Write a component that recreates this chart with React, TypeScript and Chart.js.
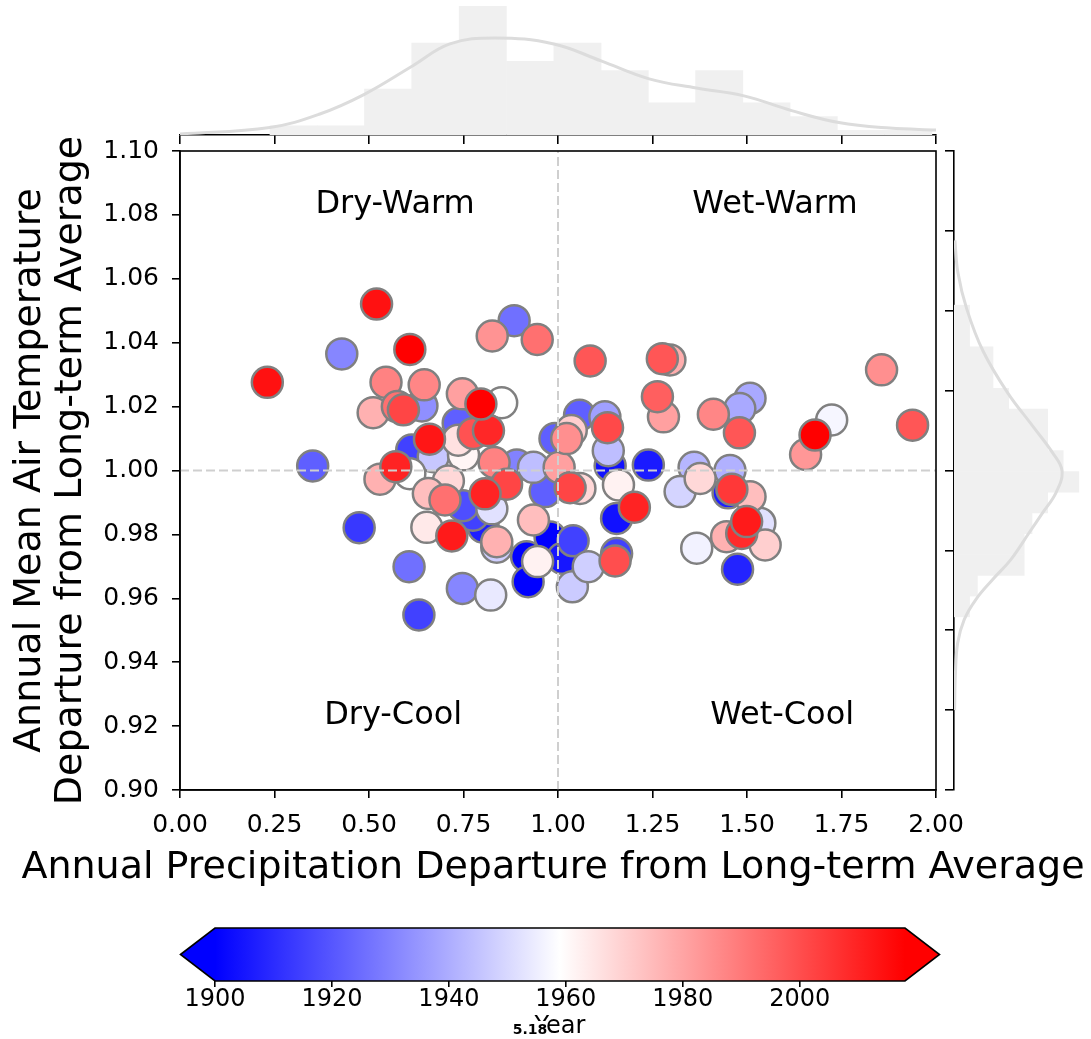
import React, { useEffect, useRef } from "react";
import { Chart, registerables } from "chart.js";
Chart.register(...registerables);

const FONT = "DejaVu Sans";
const PAGE_W = 1091;
const PAGE_H = 1039;

// ---------------- data ----------------
const precip = [
  0.520, 0.428, 0.608, 0.231, 0.545, 0.646, 0.511, 0.640, 0.575, 0.591,
  0.747, 0.660, 0.796, 0.851, 0.816, 0.776, 0.736, 0.736, 0.750, 0.613,
  0.670, 0.351, 0.571, 0.529, 0.608, 0.710, 0.657, 0.701, 0.748, 0.807,
  0.825, 0.864, 0.831, 0.935, 0.891, 0.653, 0.719, 0.775, 0.802, 0.838,
  0.838, 0.935, 0.917, 0.921, 0.946, 0.979, 1.040, 1.038, 0.474, 0.606,
  0.747, 0.822, 0.632, 0.884, 0.826, 0.945, 1.085, 1.276, 1.296, 1.263,
  1.279, 1.057, 1.124, 1.035, 1.023, 0.992, 1.131, 1.133, 1.239, 1.003,
  1.032, 1.058, 0.966, 1.138, 1.160, 1.155, 1.202, 1.080, 1.151, 1.155,
  1.323, 1.367, 1.376, 1.360, 1.455, 1.460, 1.508, 1.450, 1.499, 1.534,
  1.486, 1.446, 1.548, 1.475, 1.655, 1.856, 1.938, 1.724, 1.680, 1.411,
  1.508, 1.481, 1.480, 1.012,
];
const temp = [
  1.0521, 1.0365, 1.0379, 1.0276, 1.0276, 1.0268, 1.0181, 1.0202, 1.0200, 1.0190,
  1.0240, 1.0098, 1.0208, 1.0212, 1.0125, 1.0116, 1.0148, 1.0095, 1.0049, 1.0064,
  1.0043, 1.0014, 1.0012, 0.9973, 0.9990, 0.9967, 0.9928, 0.9908, 0.9890, 0.9927,
  0.9880, 0.9957, 1.0025, 1.0010, 1.0017, 0.9822, 0.9795, 0.9860, 0.9823, 0.9777,
  0.9760, 0.9845, 0.9730, 0.9652, 0.9715, 0.9792, 0.9780, 0.9636, 0.9821, 0.9699,
  0.9631, 0.9610, 0.9548, 1.0469, 1.0421, 1.0410, 1.0343, 1.0350, 1.0346, 1.0231,
  1.0168, 1.0173, 1.0168, 1.0125, 1.0100, 1.0100, 1.0134, 1.0062, 1.0017, 1.0010,
  0.9946, 0.9944, 0.9934, 1.0014, 0.9955, 0.9850, 0.9885, 0.9699, 0.9717, 0.9740,
  0.9934, 0.9757, 0.9975, 1.0010, 1.0000, 0.9941, 0.9918, 0.9930, 0.9840, 0.9835,
  0.9803, 0.9793, 0.9767, 0.9691, 1.0050, 1.0315, 1.0142, 1.0158, 1.0111, 1.0176,
  1.0226, 1.0194, 1.0118, 0.9725,
];
const years = [
  2014, 1931, 2018, 2014, 1988, 1987, 1977, 1933, 1992, 2002,
  1981, 2013, 2018, 1959, 2009, 1999, 1922, 1966, 1961, 1915,
  1946, 1922, 2010, 1977, 1959, 1968, 1974, 1992, 1918, 2010,
  1952, 2002, 1988, 1944, 1930, 1964, 2012, 1915, 1907, 1977,
  1948, 1974, 1900, 1900, 1962, 1900, 1915, 1947, 1913, 1926,
  1931, 1954, 1915, 1926, 1984, 1992, 1998, 1998, 1978, 1996,
  1981, 1922, 1937, 1970, 1985, 1922, 2001, 1944, 1906, 1981,
  2002, 1968, 1922, 1904, 1962, 1904, 2010, 1948, 2000, 1915,
  1949, 1956, 1968, 1942, 1941, 2005, 1974, 1907, 2012, 1952,
  2008, 1977, 1970, 1908, 1983, 1985, 1998, 1957, 2018, 1987,
  1939, 1939, 1998, 1905,
];

const quadrantLabels = ["Dry-Warm", "Wet-Warm", "Dry-Cool", "Wet-Cool"];
const quadrantX = [0.569, 1.574, 0.564, 1.593];
const quadrantY = [1.0832, 1.0832, 0.9232, 0.9232];

const refLineX = [1.0, 1.0];
const refLineXSpan = [0.9, 1.1];
const refLineY = [1.0, 1.0];
const refLineYSpan = [0.0, 2.0];

const xTitle = "Annual Precipitation Departure from Long-term Average";
const yTitle = ["Annual Mean Air Temperature", "Departure from Long-term Average"];

// top marginal histogram (precipitation)
const topBinEdges = [0.238, 0.363, 0.488, 0.613, 0.738, 0.864, 0.989, 1.114, 1.239, 1.364, 1.489, 1.614, 1.739, 1.864, 1.989];
const topCounts = [2, 2, 10, 20, 28, 16, 20, 14, 7, 14, 7, 4, 1, 1];
const topKdeX = [0.0, 0.238, 0.37, 0.489, 0.615, 0.714, 0.833, 0.989, 1.114, 1.241, 1.366, 1.492, 1.618, 1.743, 1.878, 2.0];
const topKdeY = [0.22, 1.65, 4.57, 8.9, 15.0, 19.8, 21.1, 19.8, 16.1, 12.2, 10.2, 8.5, 5.3, 2.7, 1.5, 1.1];

// right marginal histogram (temperature)
const rightBinEdges = [0.9542, 0.9607, 0.9672, 0.9737, 0.9802, 0.9867, 0.9932, 0.9997, 1.0062, 1.0127, 1.0192, 1.0257, 1.0322, 1.0387, 1.0452, 1.0518];
const rightCounts = [2, 3, 9, 9, 10, 12, 16, 14, 12, 12, 7, 5, 5, 2, 2];
const rightKdeY = [0.925, 0.9356, 0.946, 0.9534, 0.9597, 0.9659, 0.9722, 0.9806, 0.9868, 0.9931, 0.9998, 1.0055, 1.0139, 1.0243, 1.0374, 1.0506, 1.0620, 1.0720];
const rightKdeX = [0.08, 0.17, 0.47, 1.32, 2.82, 4.96, 7.31, 9.65, 11.37, 13.08, 13.85, 12.65, 10.09, 6.88, 3.72, 1.63, 0.5, 0.12];

// colour bar
const yearMin = 1900;
const yearMax = 2018;
const cbarTicks = [1900, 1920, 1940, 1960, 1980, 2000];
const cbarLabel = "Year";
const cbarOverlay = "5.18";

// ---------------- helpers ----------------
function bwr(t: number): string {
  const c = Math.max(0, Math.min(1, t));
  if (c < 0.5) {
    const v = Math.round(255 * 2 * c);
    return `rgb(${v},${v},255)`;
  }
  const v = Math.round(255 * 2 * (1 - c));
  return `rgb(255,${v},${v})`;
}

const MAIN = { left: 180, right: 936, top: 151, bottom: 790 };

const axisCommon = {
  grid: { display: true, drawOnChartArea: false, drawTicks: true, tickLength: 8, color: "#000", lineWidth: 1.6 },
  border: { display: true, color: "#000", width: 1.6 },
};

const framePlugin = {
  id: "frame",
  afterDraw(chart: any) {
    const { ctx, chartArea } = chart;
    ctx.save();
    ctx.strokeStyle = "#000";
    ctx.lineWidth = 1.6;
    ctx.strokeRect(chartArea.left, chartArea.top, chartArea.right - chartArea.left, chartArea.bottom - chartArea.top);
    // x-axis title (drawn wider than the plot, as in the original)
    ctx.fillStyle = "#000";
    ctx.font = `38px "${FONT}"`;
    ctx.textAlign = "center";
    ctx.textBaseline = "middle";
    ctx.fillText(xTitle, (chartArea.left + chartArea.right) / 2 - 5, chartArea.bottom + 78);
    ctx.restore();
  },
};

const quadrantPlugin = {
  id: "quadrants",
  afterDraw(chart: any) {
    const { ctx, scales } = chart;
    ctx.save();
    ctx.fillStyle = "#000";
    ctx.font = `32px "${FONT}"`;
    ctx.textAlign = "center";
    ctx.textBaseline = "middle";
    quadrantLabels.forEach((t, i) => {
      ctx.fillText(t, scales.x.getPixelForValue(quadrantX[i]), scales.y.getPixelForValue(quadrantY[i]));
    });
    ctx.restore();
  },
};

const colorbarPlugin = {
  id: "colorbar",
  beforeDatasetsDraw(chart: any) {
    const { ctx, chartArea, scales } = chart;
    const { left, right, top, bottom } = chartArea;
    const x0 = scales.x.getPixelForValue(yearMin);
    const x1 = scales.x.getPixelForValue(yearMax);
    const ext = 0.05 * (x1 - x0);
    const mid = (top + bottom) / 2;
    ctx.save();
    const g = ctx.createLinearGradient(x0, 0, x1, 0);
    g.addColorStop(0, bwr(0));
    g.addColorStop(0.5, bwr(0.5));
    g.addColorStop(1, bwr(1));
    ctx.fillStyle = g;
    ctx.fillRect(left, top, right - left, bottom - top);
    ctx.fillStyle = bwr(0);
    ctx.beginPath();
    ctx.moveTo(left + 0.5, top);
    ctx.lineTo(left - ext, mid);
    ctx.lineTo(left + 0.5, bottom);
    ctx.closePath();
    ctx.fill();
    ctx.fillStyle = bwr(1);
    ctx.beginPath();
    ctx.moveTo(right - 0.5, top);
    ctx.lineTo(right + ext, mid);
    ctx.lineTo(right - 0.5, bottom);
    ctx.closePath();
    ctx.fill();
    ctx.strokeStyle = "#000";
    ctx.lineWidth = 1.6;
    ctx.beginPath();
    ctx.moveTo(left - ext, mid);
    ctx.lineTo(left, top);
    ctx.lineTo(right, top);
    ctx.lineTo(right + ext, mid);
    ctx.lineTo(right, bottom);
    ctx.lineTo(left, bottom);
    ctx.closePath();
    ctx.stroke();
    ctx.restore();
  },
  afterDraw(chart: any) {
    const { ctx, chartArea } = chart;
    const cx = (chartArea.left + chartArea.right) / 2;
    ctx.save();
    ctx.fillStyle = "#000";
    ctx.font = `24px "${FONT}"`;
    ctx.textAlign = "center";
    ctx.textBaseline = "middle";
    ctx.fillText(cbarLabel, cx, 1027);
    ctx.fillStyle = "#fff";
    ctx.fillRect(cx - 46, 1021, 32, 18);
    ctx.fillStyle = "#000";
    ctx.font = `bold 14px "${FONT}"`;
    ctx.fillText(cbarOverlay, cx - 30, 1030);
    ctx.restore();
  },
};

export default function App() {
  const mainRef = useRef<HTMLCanvasElement>(null);
  const topRef = useRef<HTMLCanvasElement>(null);
  const rightRef = useRef<HTMLCanvasElement>(null);
  const cbarRef = useRef<HTMLCanvasElement>(null);

  useEffect(() => {
    const charts: Chart[] = [];

    const pts = precip
      .map((x, i) => ({ x, y: temp[i], year: years[i] }))
      .sort((a, b) => a.year - b.year);

    // ---------- main scatter ----------
    charts.push(
      new Chart(mainRef.current!, {
        type: "scatter",
        data: {
          datasets: [
            {
              type: "line",
              data: refLineX.map((x, i) => ({ x, y: refLineXSpan[i] })),
              borderColor: "#cfcfcf",
              borderWidth: 2,
              borderDash: [9, 4],
              pointRadius: 0,
              fill: false,
              order: 0,
            } as any,
            {
              type: "line",
              data: refLineY.map((y, i) => ({ x: refLineYSpan[i], y })),
              borderColor: "#cfcfcf",
              borderWidth: 2,
              borderDash: [9, 4],
              pointRadius: 0,
              fill: false,
              order: 0,
            } as any,
            {
              type: "scatter",
              data: pts.map((p) => ({ x: p.x, y: p.y })),
              backgroundColor: pts.map((p) => bwr((p.year - yearMin) / (yearMax - yearMin))),
              borderColor: "#808080",
              borderWidth: 2.5,
              pointRadius: 15.5,
              pointHoverRadius: 15.5,
              order: 1,
            },
          ],
        },
        options: {
          animation: false,
          responsive: false,
          events: [],
          layout: { padding: { left: 0, top: MAIN.top, right: PAGE_W - MAIN.right, bottom: PAGE_H - MAIN.bottom - 110 } },
          plugins: { legend: { display: false }, tooltip: { enabled: false } },
          scales: {
            x: {
              type: "linear",
              min: 0,
              max: 2,
              ...axisCommon,
              ticks: {
                stepSize: 0.25,
                autoSkip: false,
                maxRotation: 0,
                padding: 12,
                color: "#000",
                font: { family: FONT, size: 25 },
                callback: (v: any) => Number(v).toFixed(2),
              },
              afterFit: (s: any) => {
                s.height = 110;
              },
            },
            y: {
              type: "linear",
              min: 0.9,
              max: 1.1,
              ...axisCommon,
              ticks: {
                stepSize: 0.02,
                autoSkip: false,
                padding: 13,
                color: "#000",
                font: { family: FONT, size: 25 },
                callback: (v: any) => Number(v).toFixed(2),
              },
              title: {
                display: true,
                text: yTitle,
                color: "#000",
                font: { family: FONT, size: 38, lineHeight: 1.07 },
                padding: { top: 10, bottom: 0 },
              },
              afterFit: (s: any) => {
                s.width = MAIN.left;
              },
            },
          },
        } as any,
        plugins: [framePlugin, quadrantPlugin],
      })
    );

    // ---------- top marginal ----------
    const topCenters = topCounts.map((_, i) => (topBinEdges[i] + topBinEdges[i + 1]) / 2);
    charts.push(
      new Chart(topRef.current!, {
        type: "bar",
        data: {
          datasets: [
            {
              type: "line",
              data: topKdeX.map((x, i) => ({ x, y: topKdeY[i] })),
              borderColor: "#dcdcdc",
              borderWidth: 3,
              pointRadius: 0,
              tension: 0.4,
              fill: false,
              order: 0,
            } as any,
            {
              type: "bar",
              data: topCenters.map((x, i) => ({ x, y: topCounts[i] })),
              backgroundColor: "#f0f0f0",
              borderWidth: 0,
              barPercentage: 1,
              categoryPercentage: 1,
              order: 1,
            },
          ],
        },
        options: {
          animation: false,
          responsive: false,
          events: [],
          layout: { padding: { left: MAIN.left, right: PAGE_W - MAIN.right, top: 0, bottom: PAGE_H - 135 - 12 } },
          plugins: { legend: { display: false }, tooltip: { enabled: false } },
          scales: {
            x: {
              type: "linear",
              min: 0,
              max: 2,
              offset: false,
              ...axisCommon,
              grid: { ...axisCommon.grid, offset: false, tickLength: 9 },
              ticks: { stepSize: 0.25, display: false, autoSkip: false },
              afterFit: (s: any) => {
                s.height = 12;
              },
            },
            y: { type: "linear", min: 0, max: 29.35, display: false },
          },
        } as any,
      })
    );

    // ---------- right marginal ----------
    const rightCenters = rightCounts.map((_, i) => (rightBinEdges[i] + rightBinEdges[i + 1]) / 2);
    charts.push(
      new Chart(rightRef.current!, {
        type: "bar",
        data: {
          datasets: [
            {
              type: "line",
              data: rightKdeY.map((y, i) => ({ x: rightKdeX[i], y })),
              borderColor: "#dcdcdc",
              borderWidth: 3,
              pointRadius: 0,
              tension: 0.4,
              fill: false,
              order: 0,
            } as any,
            {
              type: "bar",
              data: rightCenters.map((y, i) => ({ x: rightCounts[i], y })),
              backgroundColor: "#f0f0f0",
              borderWidth: 0,
              barPercentage: 1,
              categoryPercentage: 1,
              order: 1,
            },
          ],
        },
        options: {
          indexAxis: "y",
          animation: false,
          responsive: false,
          events: [],
          layout: { padding: { left: 954 - 9, right: 0, top: MAIN.top, bottom: PAGE_H - MAIN.bottom } },
          plugins: { legend: { display: false }, tooltip: { enabled: false } },
          scales: {
            y: {
              type: "linear",
              position: "left",
              min: 0.9,
              max: 1.1,
              offset: false,
              ...axisCommon,
              grid: { ...axisCommon.grid, offset: false, tickLength: 9 },
              ticks: { stepSize: 0.025, display: false, autoSkip: false, includeBounds: false },
              afterFit: (s: any) => {
                s.width = 9;
              },
            },
            x: { type: "linear", min: 0, max: 17.56, display: false },
          },
        } as any,
      })
    );

    // ---------- colour bar ----------
    charts.push(
      new Chart(cbarRef.current!, {
        type: "scatter",
        data: { datasets: [{ data: [] }] },
        options: {
          animation: false,
          responsive: false,
          events: [],
          layout: { padding: { left: 215, right: PAGE_W - 905, top: 928, bottom: 0 } },
          plugins: { legend: { display: false }, tooltip: { enabled: false } },
          scales: {
            x: {
              type: "linear",
              min: yearMin,
              max: yearMax,
              grid: { display: true, drawOnChartArea: false, drawTicks: true, tickLength: 6, color: "#000", lineWidth: 1.6 },
              border: { display: false },
              ticks: {
                stepSize: 20,
                includeBounds: false,
                autoSkip: false,
                maxRotation: 0,
                padding: -2,
                color: "#000",
                font: { family: FONT, size: 24 },
                callback: (v: any) => (cbarTicks.includes(Number(v)) ? String(v) : ""),
              },
              afterFit: (s: any) => {
                s.height = 58;
              },
            },
            y: { type: "linear", min: 0, max: 1, display: false },
          },
        } as any,
        plugins: [colorbarPlugin],
      })
    );

    return () => charts.forEach((c) => c.destroy());
  }, []);

  const cs: React.CSSProperties = { position: "absolute", left: 0, top: 0, width: PAGE_W, height: PAGE_H, display: "block" };
  return (
    <div style={{ position: "fixed", left: 0, top: 0, width: PAGE_W, height: PAGE_H, background: "#fff", overflow: "hidden" }}>
      <canvas ref={topRef} width={PAGE_W} height={PAGE_H} style={cs} />
      <canvas ref={rightRef} width={PAGE_W} height={PAGE_H} style={cs} />
      <canvas ref={cbarRef} width={PAGE_W} height={PAGE_H} style={cs} />
      <canvas ref={mainRef} width={PAGE_W} height={PAGE_H} style={cs} />
    </div>
  );
}
